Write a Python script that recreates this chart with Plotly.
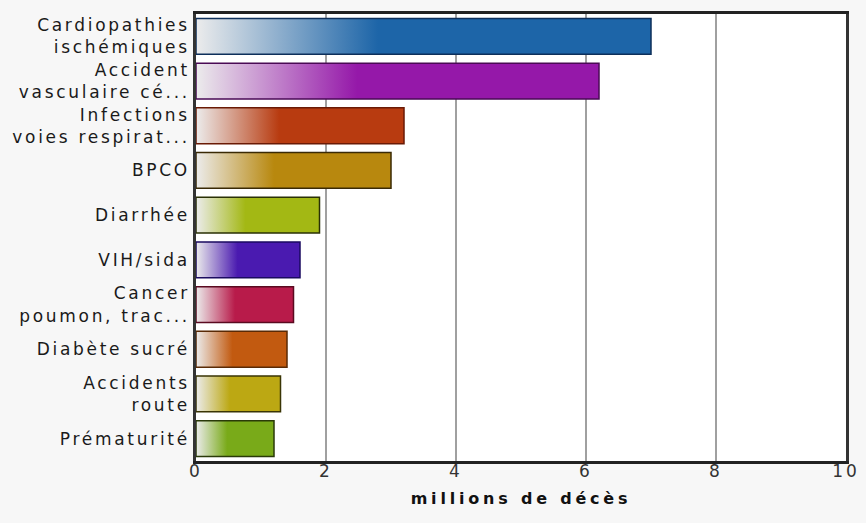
import plotly.graph_objects as go

categories = ["Cardiopathies<br>ischémiques", "Accident<br>vasculaire cé...", "Infections<br>voies respirat...",
              "BPCO", "Diarrhée", "VIH/sida", "Cancer<br>poumon, trac...", "Diabète sucré",
              "Accidents<br>route", "Prématurité"]
values = [7.0, 6.2, 3.2, 3.0, 1.9, 1.6, 1.5, 1.4, 1.3, 1.2]
colors = ["#1d65a8", "#9518a9", "#b83b10", "#b8880e", "#a3b814", "#4a1ab0", "#b81b4a", "#c25a10", "#bca813", "#79aa19"]
edges = ["#0d2f5a", "#4a0a55", "#6a1a05", "#3a2a05", "#2a3005", "#1a0a60", "#5a0a20", "#5a2a05", "#3a3505", "#2a3a08"]
x_ticks = [0, 2, 4, 6, 8, 10]

half = 0.4
fig = go.Figure()
for i, (cat, v, c, e) in enumerate(zip(categories, values, colors, edges)):
    fig.add_trace(go.Scatter(
        x=[0, v, v, 0, 0],
        y=[i - half, i - half, i + half, i + half, i - half],
        mode="lines", fill="toself",
        line=dict(color=e, width=1.5),
        fillgradient=dict(type="horizontal",
                          colorscale=[[0, "#ececec"], [0.4, c], [1, c]]),
        hoverinfo="skip", showlegend=False,
    ))

fig.update_layout(
    width=866, height=523,
    margin=dict(l=196, r=9, t=14, b=62),
    paper_bgcolor="#f7f7f7", plot_bgcolor="white",
    font=dict(family="DejaVu Sans", size=15, color="#222"),
    xaxis=dict(range=[0, 10], tickvals=x_ticks, ticktext=[str(t) for t in x_ticks],
               showgrid=True, gridcolor="#a0a0a0", gridwidth=1.5, zeroline=False,
               showline=True, linecolor="#222", linewidth=2.5, mirror=True,
               ticks="", ticklen=0, tickfont=dict(size=17, color="#333"), ticklabelstandoff=-7,
               title=dict(text="<b>millions de décès</b>", font=dict(size=16, color="#111"), standoff=13)),
    yaxis=dict(range=[9.5, -0.5], tickvals=list(range(len(categories))), ticktext=categories,
               showgrid=False, zeroline=False, showline=True, linecolor="#333", linewidth=2.5,
               mirror=True, ticks="", ticklabelstandoff=0, tickfont=dict(size=17, color="#1a1a1a")),
)
css = ("var s=document.createElement('style');"
       "s.textContent='.ytick text{letter-spacing:2.7px}.xtick text{letter-spacing:3px}.g-xtitle text{letter-spacing:3.8px}';"
       "document.head.appendChild(s);")
fig.write_html("out.html", post_script=css)
